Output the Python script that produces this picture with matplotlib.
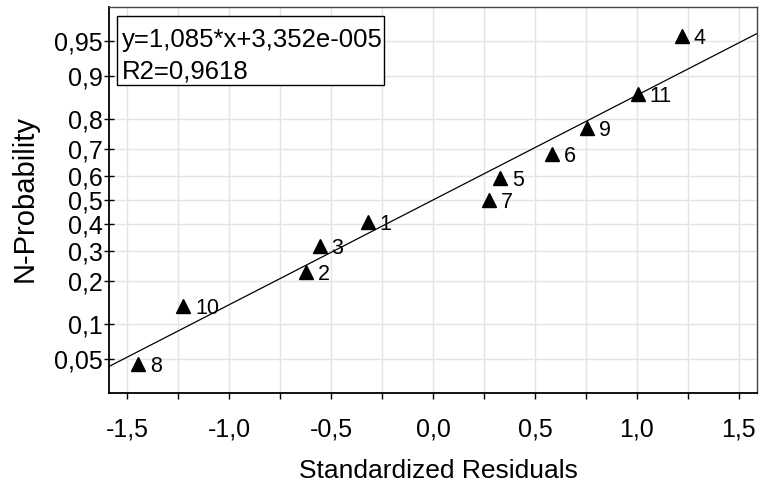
import numpy as np
import matplotlib
matplotlib.use('Agg')
import matplotlib.pyplot as plt
from matplotlib.patches import Rectangle
from matplotlib.ticker import FixedLocator, FixedFormatter, NullLocator
from statistics import NormalDist

# ---- data ----
point_labels = ['8', '10', '2', '3', '1', '7', '5', '6', '9', '11', '4']
residuals = [-1.448, -1.225, -0.624, -0.555, -0.319, 0.273, 0.330, 0.583, 0.755, 1.005, 1.221]
probabilities = [0.045, 0.136, 0.227, 0.318, 0.409, 0.500, 0.591, 0.682, 0.773, 0.864, 0.955]
fit_slope = 1.085
fit_intercept = 3.352e-005
eq_text = 'y=1,085*x+3,352e-005'
r2_text = 'R2=0,9618'
y_ticks = [0.05, 0.1, 0.2, 0.3, 0.4, 0.5, 0.6, 0.7, 0.8, 0.9, 0.95]
y_tick_labels = ['0,05', '0,1', '0,2', '0,3', '0,4', '0,5', '0,6', '0,7', '0,8', '0,9', '0,95']
x_ticks = [-1.5, -1.25, -1.0, -0.75, -0.5, -0.25, 0.0, 0.25, 0.5, 0.75, 1.0, 1.25, 1.5]
x_tick_labels = ['-1,5', '', '-1,0', '', '-0,5', '', '0,0', '', '0,5', '', '1,0', '', '1,5']
x_label = 'Standardized Residuals'
y_label = 'N-Probability'

nd = NormalDist()
_ppf = np.vectorize(nd.inv_cdf, otypes=[float])
_cdf = np.vectorize(nd.cdf, otypes=[float])


def forward(p):
    p = np.clip(np.asarray(p, dtype=float), 1e-9, 1 - 1e-9)
    return _ppf(p)


def inverse(z):
    return _cdf(np.asarray(z, dtype=float))


plt.rcParams['font.family'] = ['Liberation Sans', 'DejaVu Sans']

W, H = 760, 488
fig = plt.figure(figsize=(W / 100, H / 100), dpi=100)
ax = fig.add_axes([109 / W, 1 - 393 / H, (757 - 109) / W, (393 - 7) / H])
ax.set_yscale('function', functions=(forward, inverse))
ax.set_xlim(-1.59, 1.59)
ax.set_ylim(float(inverse(-2.0)), float(inverse(2.0)))

ax.yaxis.set_major_locator(FixedLocator(y_ticks))
ax.yaxis.set_major_formatter(FixedFormatter(y_tick_labels))
ax.yaxis.set_minor_locator(NullLocator())
ax.xaxis.set_major_locator(FixedLocator(x_ticks))
ax.xaxis.set_major_formatter(FixedFormatter(x_tick_labels))
ax.xaxis.set_minor_locator(NullLocator())

ax.grid(True, color='#e4e4e4', lw=1.0)
ax.set_axisbelow(True)

for side in ['top', 'right']:
    ax.spines[side].set_color('#444444')
    ax.spines[side].set_linewidth(1.0)
for side in ['left', 'bottom']:
    ax.spines[side].set_color('black')
    ax.spines[side].set_linewidth(1.3)

ax.tick_params(axis='x', direction='out', length=4.5, width=1, pad=13, labelsize=18)
ax.tick_params(axis='y', direction='inout', length=6.5, width=1, pad=1.5, labelsize=18)

# regression line
xs = np.linspace(-1.59, 1.59, 60)
ax.plot(xs, inverse(fit_slope * xs + fit_intercept), color='black', lw=0.9)

# points
ax.plot(residuals, probabilities, linestyle='none', marker='^', color='black', ms=10.5)
for x, p, lab in zip(residuals, probabilities, point_labels):
    ax.annotate(lab, (x, p), xytext=(8.5, 0), textcoords='offset points',
                ha='left', va='center_baseline', fontsize=15.5)

# equation box
box_l, box_t, box_r, box_b = 117.3, 15.7, 384.3, 85.0
fig.patches.append(Rectangle((box_l / W, 1 - box_b / H), (box_r - box_l) / W, (box_b - box_t) / H,
                             transform=fig.transFigure, facecolor='white', edgecolor='black',
                             lw=1.0, zorder=5))
fig.text(121.5 / W, 1 - 47 / H, eq_text, fontsize=18.5, ha='left', va='baseline', zorder=6)
fig.text(121.5 / W, 1 - 78 / H, r2_text, fontsize=18.5, ha='left', va='baseline', zorder=6)

fig.text(438 / W, 1 - 471 / H, x_label, fontsize=19, ha='center', va='center')
fig.text(25 / W, 1 - 198 / H, y_label, fontsize=21, ha='center', va='center', rotation=90)

fig.savefig('out.png', dpi=100)
